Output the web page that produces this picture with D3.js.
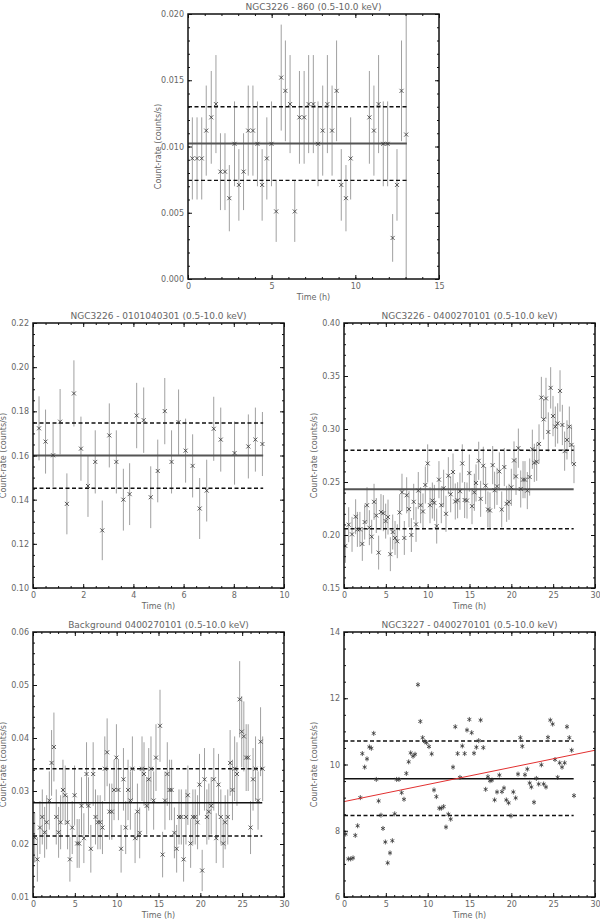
<!DOCTYPE html>
<html>
<head>
<meta charset="utf-8">
<script src="https://cdn.jsdelivr.net/npm/d3@7"></script>
<style>
  body { margin: 0; background: #fff; }
  svg { display: block; }
  .tick text { fill: #666; font-family: "DejaVu Sans", sans-serif; font-size: 8px; }
  .ttl { fill: #666; font-family: "DejaVu Sans", sans-serif; font-size: 9px; }
  .lbl { fill: #666; font-family: "DejaVu Sans", sans-serif; font-size: 8px; }
</style>
</head>
<body>
<svg id="chart" width="600" height="920"></svg>
<script>
// ---- NGC3226 - 860 ----
const time860 = [0.26, 0.54, 0.82, 1.09, 1.39, 1.67, 1.94, 2.21, 2.47, 2.78, 3.04, 3.32, 3.60, 3.88, 4.15, 4.43, 4.71, 4.99, 5.27, 5.57,
  5.82, 6.10, 6.38, 6.66, 6.94, 7.21, 7.49, 7.77, 8.05, 8.33, 8.61, 8.88, 9.16, 9.44, 9.72, 10.84, 11.11, 11.39, 11.67, 11.93,
  12.23, 12.49, 12.76, 13.04];
const rate860 = [0.0091, 0.0091, 0.0091, 0.0112, 0.0122, 0.0132, 0.0081, 0.0081, 0.0061, 0.0102, 0.0071, 0.0081, 0.0112, 0.0112, 0.0102, 0.0071, 0.0091, 0.0102, 0.0051, 0.0152,
  0.0142, 0.0132, 0.0051, 0.0122, 0.0122, 0.0132, 0.0132, 0.0102, 0.0112, 0.0132, 0.0112, 0.0142, 0.0071, 0.0061, 0.0091, 0.0122, 0.0112, 0.0132, 0.0102, 0.0102,
  0.0031, 0.0071, 0.0142, 0.0109];
const err860 = [0.0031, 0.0031, 0.0031, 0.0034, 0.0035, 0.0037, 0.0029, 0.0029, 0.0025, 0.0032, 0.0027, 0.0029, 0.0034, 0.0034, 0.0032, 0.0027, 0.0031, 0.0032, 0.0023, 0.0040,
  0.0038, 0.0037, 0.0023, 0.0035, 0.0035, 0.0037, 0.0037, 0.0032, 0.0034, 0.0037, 0.0034, 0.0038, 0.0027, 0.0025, 0.0031, 0.0035, 0.0034, 0.0037, 0.0032, 0.0032,
  0.0018, 0.0027, 0.0038, 0.0110];
const level860 = [0.01023, 0.0130, 0.00744]; // mean, upper, lower

// ---- NGC3226 - 0101040301 ----
const time0101 = [0.24, 0.50, 0.80, 1.08, 1.35, 1.63, 1.91, 2.19, 2.48, 2.76, 3.04, 3.32, 3.60, 3.85, 4.13, 4.41, 4.69, 4.97, 5.25, 5.52,
  5.80, 6.08, 6.36, 6.64, 6.92, 7.20, 7.48, 8.03, 8.58, 8.86, 9.14];
const rate0101 = [0.1723, 0.1663, 0.1601, 0.1753, 0.1381, 0.1881, 0.1631, 0.1462, 0.1571, 0.1261, 0.1691, 0.1571, 0.1400, 0.1425, 0.1781, 0.1760, 0.1411, 0.1530, 0.1801, 0.1571,
  0.1751, 0.1622, 0.1553, 0.1360, 0.1441, 0.1721, 0.1672, 0.1611, 0.1641, 0.1672, 0.1652];
const err0101 = [0.0145, 0.0145, 0.0143, 0.0148, 0.0138, 0.0150, 0.0145, 0.0140, 0.0143, 0.0135, 0.0145, 0.0143, 0.0140, 0.0140, 0.0148, 0.0148, 0.0140, 0.0142, 0.0150, 0.0143,
  0.0148, 0.0145, 0.0143, 0.0138, 0.0140, 0.0145, 0.0145, 0.0143, 0.0145, 0.0145, 0.0145];
const level0101 = [0.1600, 0.1747, 0.1452];

// ---- NGC3226 - 0400270101 ----
const time0400 = [0.16, 0.56, 0.96, 1.39, 1.60, 1.90, 2.19, 2.47, 2.75, 3.03, 3.31, 3.59, 3.86, 4.14, 4.42, 4.70, 4.98, 5.26, 5.54, 5.82,
  6.10, 6.37, 6.65, 6.93, 7.21, 7.49, 7.77, 8.05, 8.33, 8.61, 8.88, 9.16, 9.44, 9.72, 10.00, 10.28, 10.56, 10.80, 11.08, 11.35,
  11.63, 11.91, 12.19, 12.47, 12.75, 13.03, 13.30, 13.58, 13.86, 14.14, 14.42, 14.70, 14.98, 15.30, 15.58, 15.78, 16.10, 16.33, 16.65, 16.93,
  17.20, 17.45, 17.77, 18.00, 18.29, 18.57, 18.85, 19.16, 19.44, 19.72, 20.00, 20.32, 20.56, 20.84, 21.12, 21.40, 21.63, 21.91, 22.19, 22.51,
  22.75, 23.03, 23.31, 23.59, 23.86, 24.14, 24.42, 24.70, 24.98, 25.26, 25.54, 25.82, 26.10, 26.37, 26.65, 26.93, 27.20, 27.49];
const rate0400 = [0.1897, 0.2097, 0.2006, 0.2172, 0.2053, 0.2053, 0.1916, 0.2122, 0.2281, 0.2069, 0.1984, 0.2313, 0.2184, 0.1834, 0.2216, 0.2206, 0.2131, 0.2169, 0.1819, 0.2028,
  0.1972, 0.1941, 0.2213, 0.2403, 0.1972, 0.2375, 0.2244, 0.2000, 0.2313, 0.2100, 0.2419, 0.2281, 0.2222, 0.2472, 0.2675, 0.2281, 0.2325, 0.2303, 0.2084, 0.2522,
  0.2281, 0.2441, 0.2200, 0.2559, 0.2384, 0.2594, 0.2316, 0.2328, 0.2413, 0.2675, 0.2330, 0.2325, 0.2584, 0.2272, 0.2403, 0.2491, 0.2700, 0.2341, 0.2653, 0.2466,
  0.2241, 0.2231, 0.2659, 0.2422, 0.2459, 0.2600, 0.2241, 0.2641, 0.2294, 0.2313, 0.2450, 0.2703, 0.2553, 0.2819, 0.2434, 0.2522, 0.2522, 0.2419, 0.2547, 0.2809,
  0.2681, 0.2691, 0.2859, 0.3297, 0.3091, 0.3288, 0.2972, 0.3388, 0.3122, 0.3022, 0.3053, 0.3359, 0.3038, 0.2791, 0.2897, 0.3022, 0.2850, 0.2669];
const err0400 = [0.016, 0.0165, 0.0165, 0.0165, 0.0165, 0.0165, 0.016, 0.0165, 0.017, 0.0165, 0.016, 0.017, 0.0165, 0.016, 0.017, 0.017, 0.0165, 0.0165, 0.016, 0.0165,
  0.016, 0.016, 0.017, 0.0175, 0.016, 0.017, 0.017, 0.016, 0.017, 0.0165, 0.0175, 0.017, 0.017, 0.0175, 0.018, 0.017, 0.017, 0.017, 0.0165, 0.0175,
  0.017, 0.0175, 0.017, 0.0175, 0.017, 0.0175, 0.017, 0.017, 0.0175, 0.018, 0.017, 0.017, 0.0175, 0.017, 0.0175, 0.0175, 0.018, 0.017, 0.018, 0.0175,
  0.017, 0.017, 0.018, 0.0175, 0.0175, 0.018, 0.017, 0.018, 0.017, 0.017, 0.0175, 0.018, 0.0175, 0.0185, 0.0175, 0.0175, 0.0175, 0.0175, 0.0175, 0.0185,
  0.018, 0.018, 0.0185, 0.0195, 0.019, 0.0195, 0.0185, 0.0195, 0.019, 0.019, 0.019, 0.0195, 0.019, 0.0185, 0.0185, 0.019, 0.0185, 0.018];
const level0400 = [0.2431, 0.2799, 0.2059];

// ---- Background 0400270101 ----
const timeBkg = [0.20, 0.52, 0.83, 1.11, 1.39, 1.63, 1.95, 2.22, 2.50, 2.78, 3.06, 3.30, 3.58, 3.85, 4.13, 4.41, 4.69, 4.97, 5.28, 5.52,
  5.80, 6.08, 6.40, 6.63, 6.91, 7.19, 7.47, 7.75, 8.03, 8.30, 8.58, 8.86, 9.14, 9.42, 9.69, 9.97, 10.21, 10.53, 10.81, 11.08,
  11.36, 11.64, 11.88, 12.20, 12.48, 12.75, 13.03, 13.27, 13.59, 13.83, 14.10, 14.42, 14.70, 15.18, 15.49, 15.77, 16.05, 16.33, 16.57, 16.90,
  17.17, 17.45, 17.73, 18.00, 18.28, 18.51, 18.84, 19.11, 19.39, 19.67, 19.90, 20.22, 20.50, 20.78, 21.02, 21.30, 21.61, 21.90, 22.17, 22.45,
  22.73, 22.97, 23.28, 23.56, 23.84, 24.10, 24.38, 24.70, 24.95, 25.20, 25.48, 25.72, 26.00, 26.30, 26.60, 26.90, 27.20, 27.45];
const rateBkg = [0.0212, 0.0171, 0.0231, 0.0251, 0.0222, 0.0241, 0.0282, 0.0353, 0.0383, 0.0251, 0.0222, 0.0241, 0.0302, 0.0292, 0.0241, 0.0171, 0.0231, 0.0292, 0.0201, 0.0201,
  0.0272, 0.0211, 0.0332, 0.0272, 0.0191, 0.0332, 0.0251, 0.0241, 0.0241, 0.0231, 0.0342, 0.0373, 0.0261, 0.0261, 0.0302, 0.0363, 0.0302, 0.0191, 0.0322, 0.0231,
  0.0302, 0.0282, 0.0342, 0.0211, 0.0261, 0.0221, 0.0342, 0.0332, 0.0272, 0.0322, 0.0342, 0.0282, 0.0363, 0.0423, 0.0180, 0.0282, 0.0332, 0.0302, 0.0302, 0.0221,
  0.0191, 0.0251, 0.0251, 0.0171, 0.0251, 0.0292, 0.0201, 0.0251, 0.0251, 0.0241, 0.0312, 0.0150, 0.0322, 0.0251, 0.0261, 0.0272, 0.0322, 0.0211, 0.0312, 0.0251,
  0.0201, 0.0241, 0.0251, 0.0353, 0.0302, 0.0342, 0.0332, 0.0473, 0.0412, 0.0403, 0.0363, 0.0363, 0.0231, 0.0322, 0.0342, 0.0282, 0.0393, 0.0342];
const errBkg = [0.0047, 0.0042, 0.0050, 0.0052, 0.0048, 0.0051, 0.0055, 0.0062, 0.0065, 0.0052, 0.0048, 0.0051, 0.0057, 0.0056, 0.0051, 0.0042, 0.0050, 0.0056, 0.0046, 0.0046,
  0.0054, 0.0047, 0.0060, 0.0054, 0.0045, 0.0060, 0.0052, 0.0051, 0.0051, 0.0050, 0.0061, 0.0064, 0.0053, 0.0053, 0.0057, 0.0063, 0.0057, 0.0045, 0.0059, 0.0050,
  0.0057, 0.0055, 0.0061, 0.0047, 0.0053, 0.0048, 0.0061, 0.0060, 0.0054, 0.0059, 0.0061, 0.0055, 0.0063, 0.0068, 0.0043, 0.0055, 0.0060, 0.0057, 0.0057, 0.0048,
  0.0045, 0.0052, 0.0052, 0.0042, 0.0052, 0.0056, 0.0046, 0.0052, 0.0052, 0.0051, 0.0058, 0.0039, 0.0059, 0.0052, 0.0053, 0.0054, 0.0059, 0.0047, 0.0058, 0.0052,
  0.0046, 0.0051, 0.0052, 0.0062, 0.0057, 0.0061, 0.0060, 0.0072, 0.0067, 0.0066, 0.0063, 0.0063, 0.0050, 0.0059, 0.0061, 0.0055, 0.0065, 0.0061];
const levelBkg = [0.0278, 0.0342, 0.0215];

// ---- NGC3227 - 0400270101 ----
const time3227 = [0.20, 0.52, 0.80, 1.08, 1.35, 1.63, 1.95, 2.19, 2.47, 2.75, 3.03, 3.27, 3.55, 3.86, 4.14, 4.42, 4.66, 4.94, 5.22, 5.50,
  5.78, 6.06, 6.29, 6.57, 6.89, 7.17, 7.45, 7.73, 7.97, 8.25, 8.49, 8.84, 9.12, 9.40, 9.68, 9.88, 10.16, 10.48, 10.76, 11.04,
  11.39, 11.63, 11.91, 12.19, 12.47, 12.75, 13.03, 13.30, 13.58, 13.86, 14.14, 14.42, 14.70, 14.98, 15.26, 15.54, 15.82, 16.10, 16.33, 16.65,
  16.93, 17.20, 17.45, 17.69, 18.00, 18.29, 18.57, 18.88, 19.12, 19.40, 19.68, 19.96, 20.24, 20.52, 20.80, 21.08, 21.31, 21.63, 21.91, 22.19,
  22.39, 22.71, 22.99, 23.27, 23.59, 23.86, 24.14, 24.38, 24.66, 24.94, 25.22, 25.54, 25.78, 26.06, 26.37, 26.65, 26.93, 27.21, 27.49];
const rate3227 = [7.90, 7.15, 7.15, 7.18, 7.86, 8.15, 9.00, 10.33, 9.92, 10.17, 10.53, 10.49, 10.94, 9.55, 8.90, 8.47, 8.07, 7.66, 7.03, 7.33,
  7.70, 8.51, 9.55, 9.55, 9.15, 8.95, 9.73, 10.08, 10.35, 10.25, 10.31, 12.41, 11.30, 10.81, 10.69, 10.66, 10.54, 10.32, 9.23, 9.03,
  8.68, 8.68, 8.73, 8.11, 8.50, 8.35, 9.92, 11.14, 10.33, 9.61, 10.56, 10.33, 11.04, 11.36, 10.96, 10.34, 10.52, 10.72, 11.34, 10.51,
  9.25, 9.63, 9.51, 9.53, 8.93, 9.17, 9.68, 9.18, 9.29, 8.93, 8.84, 8.45, 9.17, 8.99, 9.71, 10.81, 10.55, 9.69, 9.86, 9.44,
  9.32, 8.86, 9.58, 9.41, 9.99, 9.41, 9.32, 10.82, 11.34, 11.22, 10.15, 9.61, 10.05, 9.92, 10.05, 11.14, 10.81, 10.43, 9.06];
const level3227 = [9.57, 10.71, 8.46];
const fitTime3227 = [0, 30];
const fitRate3227 = [8.88, 10.43];

const W = 251, H = 265;
const svg = d3.select("#chart");

function drawPanel(cfg) {
  var g = svg.append("g").attr("transform", `translate(${cfg.left},${cfg.top})`);
  var x = d3.scaleLinear().domain(cfg.xDomain).range([0, W]);
  var y = d3.scaleLinear().domain(cfg.yDomain).range([H, 0]);

  g.append("clipPath").attr("id", "clip-" + cfg.id)
    .append("rect").attr("width", W).attr("height", H);
  var plot = g.append("g").attr("clip-path", `url(#clip-${cfg.id})`);

  var pts = cfg.time.map((t, i) => ({ t: t, r: cfg.rate[i], e: cfg.err ? cfg.err[i] : 0 }));

  // error bars
  if (cfg.err) {
    plot.selectAll("line.err").data(pts).join("line")
      .attr("x1", d => x(d.t)).attr("x2", d => x(d.t))
      .attr("y1", d => y(d.r - d.e)).attr("y2", d => y(d.r + d.e))
      .attr("stroke", "#a0a0a0").attr("stroke-width", 1);
  }

  // mean and +/- levels
  var xEnd = x(cfg.lineEnd);
  plot.append("line").attr("x1", 0).attr("x2", xEnd)
    .attr("y1", y(cfg.level[0])).attr("y2", y(cfg.level[0]))
    .attr("stroke", cfg.meanColor).attr("stroke-width", cfg.meanWidth);
  [cfg.level[1], cfg.level[2]].forEach(v => {
    plot.append("line").attr("x1", 0).attr("x2", xEnd)
      .attr("y1", y(v)).attr("y2", y(v))
      .attr("stroke", "#111").attr("stroke-width", 1.4)
      .attr("stroke-dasharray", "4,2.5");
  });

  // markers
  var s = 2;
  var mk = plot.selectAll("g.pt").data(pts).join("g")
    .attr("transform", d => `translate(${x(d.t)},${y(d.r)})`);
  if (cfg.star) {
    mk.append("path")
      .attr("d", `M0,${-s - 0.5}V${s + 0.5}M${-s},${-s * 0.6}L${s},${s * 0.6}M${-s},${s * 0.6}L${s},${-s * 0.6}`)
      .attr("stroke", "#333").attr("stroke-width", 0.8).attr("fill", "none");
  } else {
    mk.append("path")
      .attr("d", `M${-s},${-s}L${s},${s}M${-s},${s}L${s},${-s}`)
      .attr("stroke", "#333").attr("stroke-width", 0.8).attr("fill", "none");
  }

  // linear fit
  if (cfg.fitTime) {
    var fit = cfg.fitTime.map((t, i) => [t, cfg.fitRate[i]]);
    plot.append("path").datum(fit)
      .attr("d", d3.line().x(d => x(d[0])).y(d => y(d[1])))
      .attr("stroke", "#e23030").attr("stroke-width", 1).attr("fill", "none");
  }

  // axes: labelled bottom/left, plain top/right, ticks inward
  function axis(gen, scale, major, minor, fmt, tr, labels, pad) {
    var a = g.append("g").attr("transform", tr);
    a.call(gen(scale).tickValues(minor).tickSize(-2).tickFormat(""));
    var b = g.append("g").attr("transform", tr);
    b.call(gen(scale).tickValues(major).tickSize(-4).tickPadding(labels ? pad : 0)
      .tickFormat(labels ? fmt : ""));
    [a, b].forEach(s => {
      s.select(".domain").remove();
      s.selectAll(".tick line").attr("stroke", "#111").attr("stroke-width", 1);
    });
    return b;
  }
  var xMinor = d3.range(cfg.xDomain[0], cfg.xDomain[1] + 1e-9, cfg.xMinor);
  var yMinor = d3.range(cfg.yDomain[0], cfg.yDomain[1] + 1e-9, cfg.yMinor);
  var xf = d3.format("d"), yf = d3.format(cfg.yFormat);
  var bx = axis(d3.axisBottom, x, cfg.xTicks, xMinor, xf, `translate(0,${H})`, true, 3);
  bx.selectAll(".tick text").attr("dy", "0.9em");
  axis(d3.axisTop, x, cfg.xTicks, xMinor, xf, "translate(0,0)", false, 0);
  axis(d3.axisLeft, y, cfg.yTicks, yMinor, yf, "translate(0,0)", true, 4);
  axis(d3.axisRight, y, cfg.yTicks, yMinor, yf, `translate(${W},0)`, false, 0);

  g.append("rect").attr("width", W).attr("height", H)
    .attr("fill", "none").attr("stroke", "#111").attr("stroke-width", 1.5);

  g.append("text").attr("class", "ttl").attr("x", W / 2).attr("y", -4)
    .attr("text-anchor", "middle").text(cfg.title);
  g.append("text").attr("class", "lbl").attr("x", W / 2).attr("y", H + 20.5)
    .attr("text-anchor", "middle").text("Time (h)");
  g.append("text").attr("class", "lbl")
    .attr("transform", `translate(-27,${H / 2}) rotate(-90)`)
    .attr("text-anchor", "middle").text("Count-rate (counts/s)");
}

drawPanel({ id: "p860", left: 188, top: 14, xDomain: [0, 15], yDomain: [0, 0.020],
  xTicks: [0, 5, 10, 15], yTicks: [0, 0.005, 0.010, 0.015, 0.020], xMinor: 1, yMinor: 0.001, yFormat: ".3f",
  time: time860, rate: rate860, err: err860, level: level860, lineEnd: 13.08,
  meanColor: "#555", meanWidth: 2, title: "NGC3226 - 860 (0.5-10.0 keV)" });

drawPanel({ id: "p0101", left: 33, top: 323, xDomain: [0, 10], yDomain: [0.10, 0.22],
  xTicks: [0, 2, 4, 6, 8, 10], yTicks: [0.10, 0.12, 0.14, 0.16, 0.18, 0.20, 0.22], xMinor: 0.5, yMinor: 0.005, yFormat: ".2f",
  time: time0101, rate: rate0101, err: err0101, level: level0101, lineEnd: 9.17,
  meanColor: "#555", meanWidth: 2, title: "NGC3226 - 0101040301 (0.5-10.0 keV)" });

drawPanel({ id: "p0400", left: 344, top: 323, xDomain: [0, 30], yDomain: [0.15, 0.40],
  xTicks: [0, 5, 10, 15, 20, 25, 30], yTicks: [0.15, 0.20, 0.25, 0.30, 0.35, 0.40], xMinor: 1, yMinor: 0.01, yFormat: ".2f",
  time: time0400, rate: rate0400, err: err0400, level: level0400, lineEnd: 27.45,
  meanColor: "#555", meanWidth: 2, title: "NGC3226 - 0400270101 (0.5-10.0 keV)" });

drawPanel({ id: "pbkg", left: 33, top: 632, xDomain: [0, 30], yDomain: [0.01, 0.06],
  xTicks: [0, 5, 10, 15, 20, 25, 30], yTicks: [0.01, 0.02, 0.03, 0.04, 0.05, 0.06], xMinor: 1, yMinor: 0.002, yFormat: ".2f",
  time: timeBkg, rate: rateBkg, err: errBkg, level: levelBkg, lineEnd: 27.4,
  meanColor: "#111", meanWidth: 1.5, title: "Background 0400270101 (0.5-10.0 keV)" });

drawPanel({ id: "p3227", left: 344, top: 632, xDomain: [0, 30], yDomain: [6, 14],
  xTicks: [0, 5, 10, 15, 20, 25, 30], yTicks: [6, 8, 10, 12, 14], xMinor: 1, yMinor: 0.5, yFormat: "d",
  time: time3227, rate: rate3227, err: null, level: level3227, lineEnd: 27.45, star: true,
  fitTime: fitTime3227, fitRate: fitRate3227,
  meanColor: "#111", meanWidth: 1.5, title: "NGC3227 - 0400270101 (0.5-10.0 keV)" });
</script>
</body>
</html>
